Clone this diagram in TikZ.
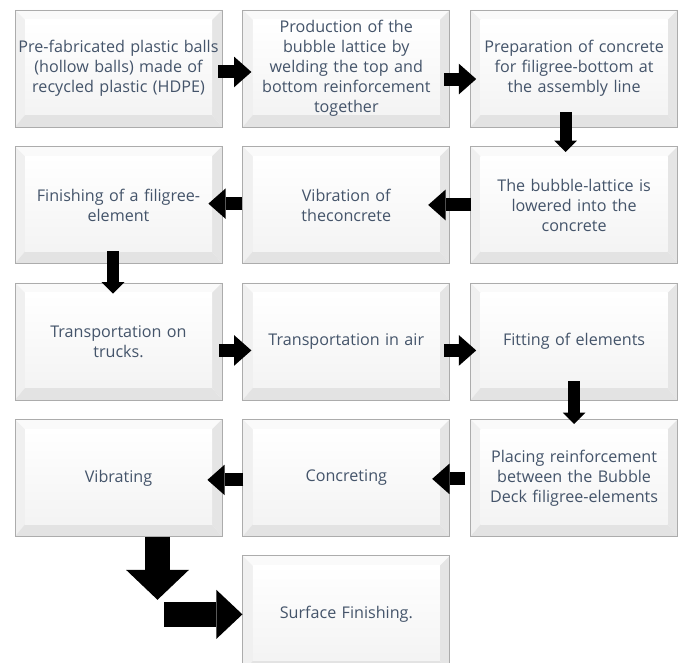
\documentclass[tikz,border=0pt]{standalone}
\usepackage{fontspec}
\setmainfont{Open Sans}
\usetikzlibrary{positioning,calc,arrows.meta}
\definecolor{txtgray}{HTML}{44546A}

\begin{document}
\begin{tikzpicture}[
    stepbox/.style={rectangle, draw=gray!65, line width=0.6pt, minimum width=155.25pt, minimum height=87.75pt,
        text width=155pt, align=center, inner sep=0pt, text=txtgray, font=\fontsize{12.1}{15}\selectfont,
        path picture={
            \path (path picture bounding box.north west) coordinate (bnw)
                (path picture bounding box.north east) coordinate (bne)
                (path picture bounding box.south west) coordinate (bsw)
                (path picture bounding box.south east) coordinate (bse);
            \fill[gray!4] (bnw) -- (bne) -- ($(bne)+(-7.5pt,-7.5pt)$) -- ($(bnw)+(7.5pt,-7.5pt)$) -- cycle;
            \fill[gray!12] (bnw) -- (bsw) -- ($(bsw)+(7.5pt,9pt)$) -- ($(bnw)+(7.5pt,-7.5pt)$) -- cycle;
            \fill[gray!20] (bne) -- (bse) -- ($(bse)+(-7.5pt,9pt)$) -- ($(bne)+(-7.5pt,-7.5pt)$) -- cycle;
            \fill[gray!22] (bsw) -- (bse) -- ($(bse)+(-7.5pt,9pt)$) -- ($(bsw)+(7.5pt,9pt)$) -- cycle;
            \shade[top color=white, bottom color=gray!9] ($(bnw)+(7.5pt,-7.5pt)$) rectangle ($(bse)+(-7.5pt,9pt)$);
        }},
    flow/.style={line width=9.75pt, -{Triangle[length=13pt, width=23pt, line width=0pt]}},
    flowdown/.style={line width=9pt, -{Triangle[length=8.5pt, width=17pt, line width=0pt]}},
    bigflow/.style={line width=18.75pt, -{Triangle[length=22.5pt, width=47.25pt, line width=0pt]}},
    node distance=14pt and 15pt
    ]
	\useasboundingbox (0,0) rectangle (510.75pt,-497.25pt);

	\node[stepbox] (pballs) at (88.875pt,-51.375pt) {Pre-fabricated plastic balls\\(hollow balls) made of\\recycled plastic (HDPE)};
	\node[stepbox, right=of pballs] (lattice) {Production of the\\bubble lattice by\\welding the top and\\bottom reinforcement\\together};
	\node[stepbox, right=of lattice] (prep) {Preparation of concrete\\for filigree-bottom at\\the assembly line};
	\node[stepbox, below=of prep] (lower) {The bubble-lattice is\\lowered into the\\concrete};
	\node[stepbox, left=of lower] (vibconc) {Vibration of\\theconcrete};
	\node[stepbox, left=of vibconc] (finish) {Finishing of a filigree-\\element};
	\node[stepbox, below=of finish] (trucks) {Transportation on\\trucks.};
	\node[stepbox, right=of trucks] (air) {Transportation in air};
	\node[stepbox, right=of air] (fitting) {Fitting of elements};
	\node[stepbox, below=of fitting] (placing) {Placing reinforcement\\between the Bubble\\Deck filigree-elements};
	\node[stepbox, left=of placing] (concreting) {Concreting};
	\node[stepbox, left=of concreting] (vibrating) {Vibrating};
	\node[stepbox, below=of concreting] (surface) {Surface Finishing.};

	\draw[flow] ([xshift=-3pt,yshift=-2.6pt]pballs.east) -- ([xshift=6.75pt,yshift=-2.6pt]lattice.west);
	\draw[flow] ([xshift=-4.5pt,yshift=-7.9pt]lattice.east) -- ([xshift=4.5pt,yshift=-7.9pt]prep.west);
	\draw[flowdown] ([xshift=-6.4pt,yshift=11.25pt]prep.south) -- ([xshift=-6.4pt,yshift=-4.5pt]lower.north);
	\draw[flow] ([xshift=0.75pt]lower.west) -- ([xshift=-16.5pt]vibconc.east);
	\draw[flow] ([yshift=1pt]vibconc.west) -- ([xshift=-10.5pt,yshift=1pt]finish.east);
	\draw[flowdown] ([xshift=-4.1pt,yshift=9.75pt]finish.south) -- ([xshift=-4.1pt,yshift=-8.25pt]trucks.north);
	\draw[flow] ([xshift=-2.25pt,yshift=-6.75pt]trucks.east) -- ([xshift=6.75pt,yshift=-6.75pt]air.west);
	\draw[flow] ([xshift=-4.5pt,yshift=-6.75pt]air.east) -- ([xshift=4.5pt,yshift=-6.75pt]fitting.west);
	\draw[flowdown] ([yshift=14.25pt]fitting.south) -- ([yshift=-3.75pt]placing.north);
	\draw[flow] ([xshift=-3.75pt,yshift=-0.75pt]placing.west) -- ([xshift=-13.5pt,yshift=-0.75pt]concreting.east);
	\draw[flow] ([xshift=0.75pt,yshift=-1.5pt]concreting.west) -- ([xshift=-11.25pt,yshift=-1.5pt]vibrating.east);
	\draw[bigflow] ([xshift=29.25pt]vibrating.south) -- ([xshift=29.25pt,yshift=-47.25pt]vibrating.south);
	\draw[bigflow, -{Triangle[length=19.5pt, width=36.75pt, line width=0pt]}] ([xshift=-58.5pt]surface.west) -- (surface.west);
\end{tikzpicture}
\end{document}
